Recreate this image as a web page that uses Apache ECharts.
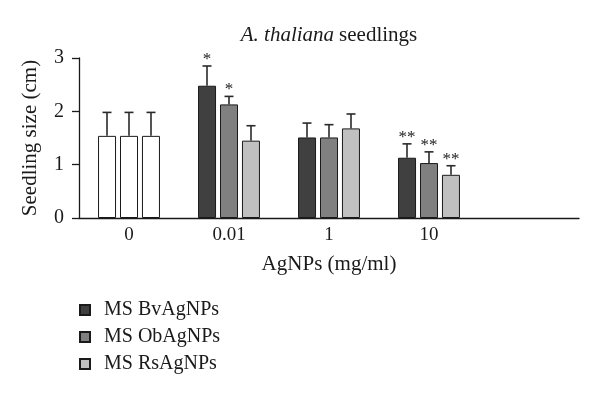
<!DOCTYPE html>
<html>
<head>
<meta charset="utf-8">
<script src="https://cdn.jsdelivr.net/npm/echarts@6/dist/echarts.min.js"></script>
<style>html,body{margin:0;padding:0;background:#fff}#c{width:600px;height:394px}</style>
</head>
<body>
<div id="c"></div>
<script>
var categories = ['0', '0.01', '1', '10', ''];
var seriesNames = ['MS BvAgNPs', 'MS ObAgNPs', 'MS RsAgNPs'];
var bv = [1.54, 2.48, 1.51, 1.13];
var ob = [1.54, 2.13, 1.51, 1.03];
var rs = [1.54, 1.45, 1.68, 0.81];
var bvErr = [0.44, 0.37, 0.27, 0.26];
var obErr = [0.44, 0.15, 0.24, 0.21];
var rsErr = [0.44, 0.28, 0.27, 0.17];
var bvSig = ['', '*', '', '**'];
var obSig = ['', '*', '', '**'];
var rsSig = ['', '', '', '**'];
var yTicks = [0, 1, 2, 3];

var colors = ['#404040', '#808080', '#c0c0c0'];
var controlColor = '#ffffff';
var FONT = 'Liberation Serif';
var values = [bv, ob, rs];
var errs = [bvErr, obErr, rsErr];
var sigs = [bvSig, obSig, rsSig];
var BAR_W = 18, BAR_STEP = 22;

var series = [];
values.forEach(function (vals, k) {
  series.push({
    name: seriesNames[k],
    type: 'bar',
    barWidth: BAR_W,
    barGap: '22%',
    itemStyle: { color: colors[k], borderColor: '#1a1a1a', borderWidth: 1 },
    data: vals.map(function (v, i) {
      return i === 0 ? { value: v, itemStyle: { color: controlColor } } : v;
    }),
    z: 2
  });
});
values.forEach(function (vals, k) {
  series.push({
    type: 'custom',
    z: 3,
    silent: true,
    data: vals.map(function (v, i) { return [i, v, v + errs[k][i], sigs[k][i]]; }),
    renderItem: function (params, api) {
      var base = api.coord([api.value(0), api.value(1)]);
      var top = api.coord([api.value(0), api.value(2)]);
      var x = base[0] + (k - 1) * BAR_STEP;
      var label = sigs[k][params.dataIndex];
      var children = [
        { type: 'line', shape: { x1: x, y1: base[1], x2: x, y2: top[1] }, style: { stroke: '#2a2a2a', lineWidth: 1.6 } },
        { type: 'line', shape: { x1: x - 4.5, y1: top[1], x2: x + 4.5, y2: top[1] }, style: { stroke: '#2a2a2a', lineWidth: 1.6 } }
      ];
      if (label) {
        children.push({ type: 'text', style: { text: label, x: x, y: top[1] + 2, align: 'center', verticalAlign: 'bottom', font: '17px "' + FONT + '"', fill: '#222' } });
      }
      return { type: 'group', children: children };
    }
  });
});

var chart = echarts.init(document.getElementById('c'));
chart.setOption({
  animation: false,
  backgroundColor: '#fff',
  title: {
    text: '{i|A. thaliana} {n|seedlings}',
    left: 324,
    textAlign: 'center',
    top: 20,
    textStyle: {
      fontWeight: 'normal',
      rich: {
        i: { fontFamily: FONT, fontSize: 21, fontStyle: 'italic', fontWeight: 'normal', color: '#1a1a1a' },
        n: { fontFamily: FONT, fontSize: 21, fontWeight: 'normal', color: '#1a1a1a' }
      }
    }
  },
  legend: {
    orient: 'vertical',
    left: 74,
    top: 295,
    itemWidth: 10,
    itemHeight: 10,
    itemGap: 7,
    icon: 'rect',
    data: seriesNames,
    textStyle: { fontFamily: FONT, fontSize: 20, color: '#1a1a1a', padding: [0, 0, 0, 9] }
  },
  grid: { left: 79, right: 21, top: 58, bottom: 176, containLabel: false },
  xAxis: {
    type: 'category',
    data: categories,
    name: 'AgNPs (mg/ml)',
    nameLocation: 'middle',
    nameGap: 36,
    nameTextStyle: { fontFamily: FONT, fontSize: 21, color: '#1a1a1a' },
    axisLine: { lineStyle: { color: '#1a1a1a', width: 1.3 } },
    axisTick: { show: false },
    axisLabel: { fontFamily: FONT, fontSize: 19, color: '#1a1a1a', margin: 8 }
  },
  yAxis: {
    type: 'value',
    min: yTicks[0],
    max: yTicks[yTicks.length - 1],
    interval: 1,
    name: 'Seedling size (cm)',
    nameLocation: 'middle',
    nameRotate: 90,
    nameGap: 38,
    nameTextStyle: { fontFamily: FONT, fontSize: 21, color: '#1a1a1a' },
    axisLine: { show: true, lineStyle: { color: '#1a1a1a', width: 1.3 } },
    axisTick: { show: true, length: 7, lineStyle: { color: '#1a1a1a', width: 1.3 } },
    axisLabel: { fontFamily: FONT, fontSize: 20, color: '#1a1a1a', margin: 15 },
    splitLine: { show: false }
  },
  series: series
});
</script>
</body>
</html>
